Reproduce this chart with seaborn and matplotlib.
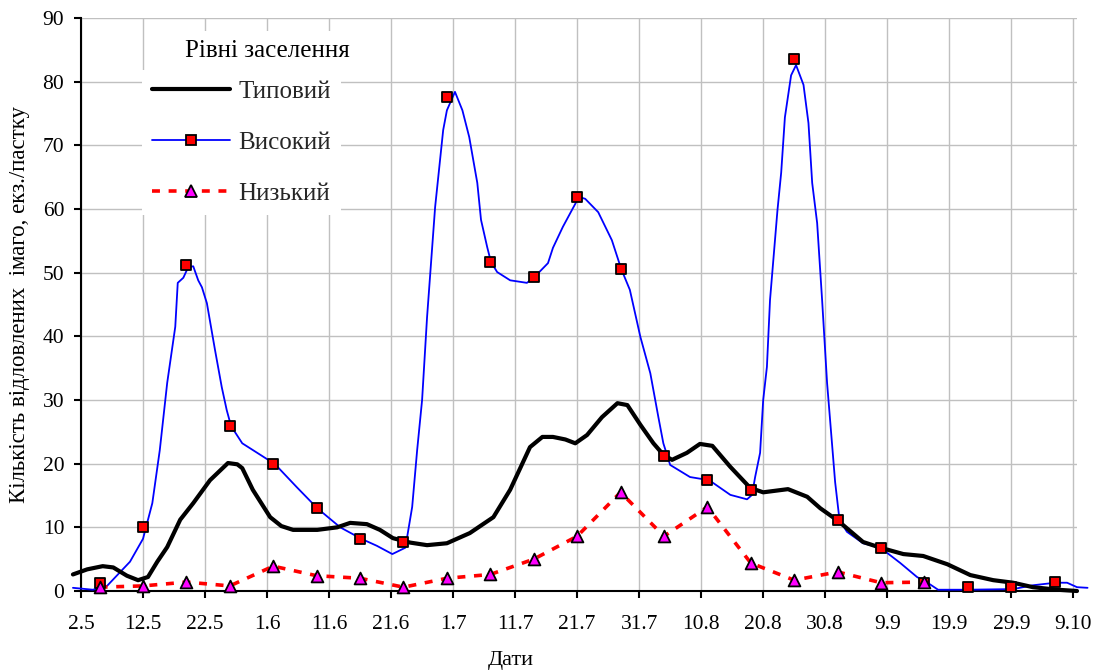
import matplotlib
matplotlib.use("Agg")
import matplotlib.pyplot as plt
from matplotlib.lines import Line2D
import pandas as pd
import seaborn as sns

# days counted from 2 May
TICK_DAYS = list(range(0, 161, 10))
TICK_LABELS = ["2.5", "12.5", "22.5", "1.6", "11.6", "21.6", "1.7", "11.7", "21.7",
               "31.7", "10.8", "20.8", "30.8", "9.9", "19.9", "29.9", "9.10"]

# Типовий (smoothed curve)
typ_days = [-1.3, 1.0, 3.5, 5.2, 7.4, 9.2, 10.8, 12.3, 13.9, 16.0, 18.1, 20.8, 23.7,
            25.2, 26.0, 27.7, 30.5, 32.3, 34.2, 38.1, 41.3, 43.4, 46.1, 48.2, 50.3,
            53.1, 55.8, 59.0, 62.7, 66.5, 69.2, 72.4, 74.4, 76.1, 78.1, 79.7, 81.6,
            84.0, 86.5, 88.1, 90.2, 92.3, 93.9, 95.3, 97.7, 99.8, 101.8, 104.7, 107.9,
            110.0, 114.0, 117.1, 119.2, 122.1, 126.1, 128.9, 132.6, 135.8, 139.7,
            143.4, 147.1, 150.3, 153.5, 157.4, 160.6]
typ_vals = [2.6, 3.4, 3.9, 3.7, 2.4, 1.7, 2.2, 4.6, 6.9, 11.2, 13.8, 17.4, 20.1,
            19.9, 19.3, 15.9, 11.6, 10.2, 9.6, 9.6, 10.0, 10.7, 10.5, 9.6, 8.3,
            7.6, 7.2, 7.5, 9.1, 11.6, 15.9, 22.6, 24.2, 24.2, 23.8, 23.2, 24.5,
            27.3, 29.5, 29.2, 26.1, 23.2, 21.4, 20.6, 21.7, 23.1, 22.8, 19.5, 16.2,
            15.5, 16.0, 14.8, 13.0, 11.0, 7.7, 6.8, 5.8, 5.5, 4.2,
            2.5, 1.7, 1.3, 0.6, 0.2, 0.0]

# Високий (curve + weekly points)
high_days = [-1.3, 1.9, 4.2, 7.9, 10.0, 11.5, 12.7, 13.9, 15.2, 15.6, 16.5, 17.3, 18.1,
             18.9, 19.5, 20.3, 21.6, 22.7, 23.5, 24.2, 26.0, 28.9, 31.3, 34.8, 38.1,
             41.8, 45.2, 47.7, 50.2, 52.3, 53.4, 54.2, 55.0, 55.8, 57.1, 58.4, 59.0,
             60.3, 61.5, 62.6, 63.9, 64.5, 65.5, 66.1, 67.1, 69.2, 71.9, 73.1, 75.3,
             76.1, 77.7, 80.3, 81.3, 83.4, 85.6, 87.1, 88.5, 90.2, 91.8, 93.1, 93.9,
             95.0, 98.2, 101.3, 104.7, 107.4, 108.2, 108.7, 109.5, 110.0, 110.6, 111.1,
             112.3, 112.9, 113.5, 114.5, 115.3, 116.5, 117.3, 117.9, 118.7, 119.5,
             120.3, 121.6, 122.3, 123.5, 126.1, 128.9, 132.1, 134.8, 136.5, 138.2,
             142.9, 150.3, 153.5, 157.1, 159.0, 160.6, 162.3]
high_vals = [0.5, 0.2, 0.8, 4.6, 8.2, 13.8, 22.1, 32.7, 41.5, 48.4, 49.2, 50.9, 51.0,
             48.8, 47.7, 45.2, 37.9, 32.0, 28.4, 25.9, 23.2, 21.4, 19.9, 16.3, 13.0,
             10.0, 8.2, 7.1, 5.8, 6.8, 13.2, 22.1, 30.0, 43.0, 60.3, 72.4, 75.5,
             78.4, 75.5, 71.3, 64.1, 58.3, 54.0, 51.7, 50.1, 48.8, 48.4, 49.3, 51.5,
             53.9, 57.2, 61.9, 61.6, 59.5, 55.1, 50.6, 47.3, 39.9, 34.2, 27.3, 23.2,
             19.8, 17.9, 17.4, 15.1, 14.4, 15.1, 17.9, 21.7, 30.0, 35.2, 45.7,
             59.8, 65.7, 74.4, 81.0, 82.6, 79.5, 73.5, 64.1, 57.8, 45.7,
             32.7, 17.1, 11.2, 9.3, 7.5, 6.8, 4.4, 2.2, 1.3, 0.2,
             0.2, 0.3, 0.9, 1.3, 1.3, 0.6, 0.5]
high_pt_days = [3, 10, 17, 24, 31, 38, 45, 52, 59, 66, 73, 80, 87, 94, 101, 108,
                115, 122, 129, 136, 143, 150, 157]
high_pt_vals = [1.3, 10.0, 51.2, 25.9, 19.9, 13.0, 8.2, 7.7, 77.6, 51.7, 49.3, 61.9,
                50.6, 21.2, 17.4, 15.9, 83.5, 11.2, 6.8, 1.3, 0.6, 0.6, 1.4]

# Низький
low_days = [3, 10, 17, 24, 31, 38, 45, 52, 59, 66, 73, 80, 87, 94, 101, 108,
            115, 122, 129, 136]
low_vals = [0.6, 0.8, 1.4, 0.8, 3.9, 2.4, 2.0, 0.6, 2.0, 2.6, 5.0, 8.6, 15.5, 8.6,
            13.2, 4.4, 1.7, 3.0, 1.3, 1.4]

sns.set_theme(style="whitegrid")
plt.rcParams["font.family"] = ["Liberation Serif", "DejaVu Serif"]

W, H = 1103, 671
fig = plt.figure(figsize=(W / 100, H / 100), dpi=100)
ax = fig.add_axes([81 / W, 80 / H, 996 / W, 573 / H])

typ = pd.DataFrame({"day": typ_days, "val": typ_vals})
high = pd.DataFrame({"day": high_days, "val": high_vals})
high_pts = pd.DataFrame({"day": high_pt_days, "val": high_pt_vals})
low = pd.DataFrame({"day": low_days, "val": low_vals})

sns.lineplot(data=high, x="day", y="val", ax=ax, color="blue", lw=1.3,
             clip_on=False, zorder=3)
sns.lineplot(data=typ, x="day", y="val", ax=ax, color="black", lw=3,
             clip_on=False, zorder=4)
sns.lineplot(data=low, x="day", y="val", ax=ax, color="red", lw=2.6,
             linestyle=(0, (2.2, 2.4)), zorder=5)
sns.scatterplot(data=high_pts, x="day", y="val", ax=ax, marker="s", color="red",
                edgecolor="black", linewidth=1.3, s=7.5 ** 2, zorder=6, clip_on=False)
sns.scatterplot(data=low, x="day", y="val", ax=ax, marker="^", color="magenta",
                edgecolor="black", linewidth=1.3, s=8.5 ** 2, zorder=7, clip_on=False)

ax.set_xlim(0, 160.6)
ax.set_ylim(0, 90)
ax.set_xticks(TICK_DAYS)
ax.set_xticklabels(TICK_LABELS)
ax.set_yticks(range(0, 91, 10))
ax.grid(True, color="#c0c0c0", lw=1.0)
for side in ("top", "right"):
    ax.spines[side].set_visible(False)
for side in ("left", "bottom"):
    ax.spines[side].set_color("black")
    ax.spines[side].set_linewidth(1.5)
ax.tick_params(axis="both", direction="out", length=5, width=1.5, color="black",
               labelsize=15.5, labelcolor="black", bottom=True, left=True)
ax.tick_params(axis="x", pad=12)
ax.tick_params(axis="y", pad=7)

ax.set_xlabel("Дати", fontsize=16, color="black")
ax.set_ylabel("Кількість відловлених  імаго, екз./пастку", fontsize=16.5, color="black")
ax.xaxis.set_label_coords(0.431, -0.105)
ax.yaxis.set_label_coords(-0.051, 0.5)

handles = [
    Line2D([], [], color="black", lw=3),
    Line2D([], [], color="blue", lw=1.3, marker="s", mfc="red", mec="black",
           mew=1.3, ms=7.5),
    Line2D([], [], color="red", lw=2.6, ls=(0, (2.2, 2.4)), marker="^",
           mfc="magenta", mec="black", mew=1.3, ms=8.5),
]
leg = ax.legend(handles, ["Типовий", "Високий", "Низький"],
                loc="upper left", bbox_to_anchor=(61 / 996, (591 - 70) / 573),
                borderaxespad=0, fontsize=18, handlelength=3.1, handletextpad=0.35,
                labelspacing=1.15, frameon=True, fancybox=False, framealpha=1,
                facecolor="white", edgecolor="none", borderpad=0.4)
leg.set_zorder(10)

ax.text((267 - 81) / 996, (591 - 51) / 573, "Рівні заселення", transform=ax.transAxes,
        ha="center", va="center", fontsize=18, color="black", zorder=11,
        bbox=dict(boxstyle="square,pad=0.35", facecolor="white", edgecolor="none"))

fig.savefig("out.png", dpi=100)
